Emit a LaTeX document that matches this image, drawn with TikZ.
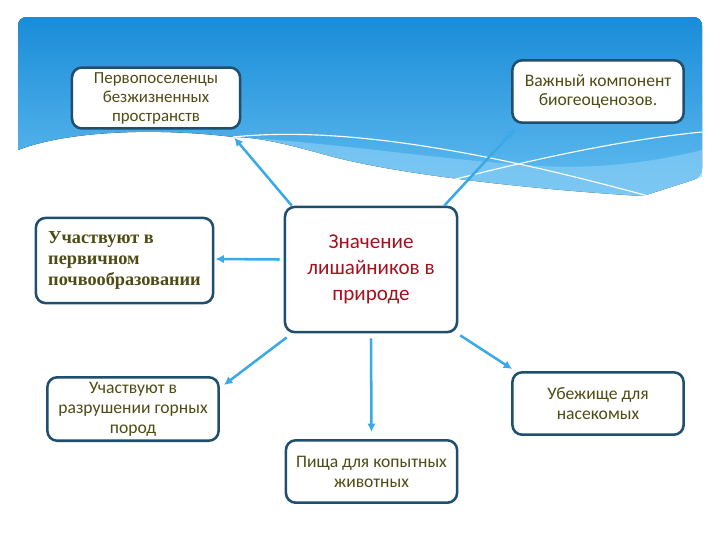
\documentclass[tikz,border=0pt]{standalone}
\usepackage{fontspec}
\setmainfont{Carlito}
\newfontfamily\timesfont{Liberation Serif}
\usepackage{tikz}
\usetikzlibrary{arrows.meta}
\definecolor{skydark}{HTML}{1A8CD8}
\definecolor{skylight}{HTML}{62BDF0}
\definecolor{skyband}{HTML}{8ED0F6}
\definecolor{boxline}{HTML}{1F4E6E}
\definecolor{arrowblue}{HTML}{3AA9E8}
\definecolor{textolive}{HTML}{4E4B14}
\definecolor{textred}{HTML}{A3121F}

\begin{document}
\begin{tikzpicture}[
  x=0.025cm, y=-0.025cm,
  item/.style={
    rectangle,
    rounded corners=7pt,
    draw=boxline,
    line width=1.8pt,
    fill=white,
    minimum width=4.28cm,
    minimum height=1.56cm,
    align=center,
    text=textolive,
    font=\fontsize{12.5}{14.2}\selectfont
  },
  hub/.style={
    item,
    minimum width=4.3cm,
    minimum height=3.13cm,
    text=textred,
    font=\fontsize{15}{18.6}\selectfont
  },
  serifitem/.style={
    item,
    minimum width=4.43cm,
    minimum height=2.13cm,
    align=left,
    font=\timesfont\bfseries\fontsize{13}{15.2}\selectfont
  },
  rel/.style={-{Latex[length=6pt,width=6pt]}, line width=1.8pt, draw=arrowblue},
  wave/.style={white, line width=0.8pt}
]
\useasboundingbox (0,0) rectangle (720,540);

\fill[top color=skydark, bottom color=skylight]
  (18,150) [rounded corners=6pt] -- (18,17) -- (702,17) -- (702,177) [sharp corners]
  -- (643,196) .. controls (540,190) and (400,175) .. (330,156)
  .. controls (290,145) and (260,137) .. (233,137)
  .. controls (160,128) and (70,130) .. (18,150) -- cycle;
\fill[skyband, opacity=0.6]
  (233,137) .. controls (330,142) and (440,160) .. (540,166)
  .. controls (610,170) and (670,158) .. (702,150) -- (702,177)
  -- (643,196) .. controls (540,190) and (400,175) .. (330,156)
  .. controls (290,145) and (260,137) .. (233,137);
\draw[wave] (233,137) .. controls (340,126) and (480,150) .. (648,196);
\draw[wave] (440,183) .. controls (530,160) and (620,140) .. (702,132);

\node[item, minimum width=4.2cm, minimum height=1.52cm,
  font=\fontsize{12}{13.5}\selectfont] (pioneers) at (156,98) {
  Первопоселенцы\\
  безжизненных\\
  пространств
};
\node[item] (ecosystem) at (598,91.5) {
  Важный компонент\\
  биогеоценозов.
};
\node[serifitem] (soil) at (124.5,260.5) {
  Участвуют в\\
  первичном\\
  почвообразовании
};
\node[hub] (lichens) at (371,269.5) {
  Значение\\
  лишайников в\\
  природе
};
\node[item] (rocks) at (133,409) {
  Участвуют в\\
  разрушении горных\\
  пород
};
\node[item] (fodder) at (371.5,471.5) {
  Пища для копытных\\
  животных
};
\node[item] (shelter) at (598,403.5) {
  Убежище для\\
  насекомых
};

\draw[rel] ([shift={(8,0)}]lichens.north west) -- ([shift={(-7,8)}]pioneers.south east);
\draw[rel] ([shift={(-14,0)}]lichens.north east) -- ([shift={(4,5)}]ecosystem.south west);
\draw[rel] ([shift={(-4,-10)}]lichens.west) -- ([shift={(1,-1.5)}]soil.east);
\draw[rel] ([shift={(3,4)}]lichens.south west) -- ([shift={(4,9)}]rocks.north east);
\draw[rel] ([shift={(0,5)}]lichens.south) -- ([shift={(0,-7)}]fodder.north);
\draw[rel] ([shift={(2,2)}]lichens.south east) -- ([shift={(1,-2)}]shelter.north west);

\end{tikzpicture}
\end{document}
